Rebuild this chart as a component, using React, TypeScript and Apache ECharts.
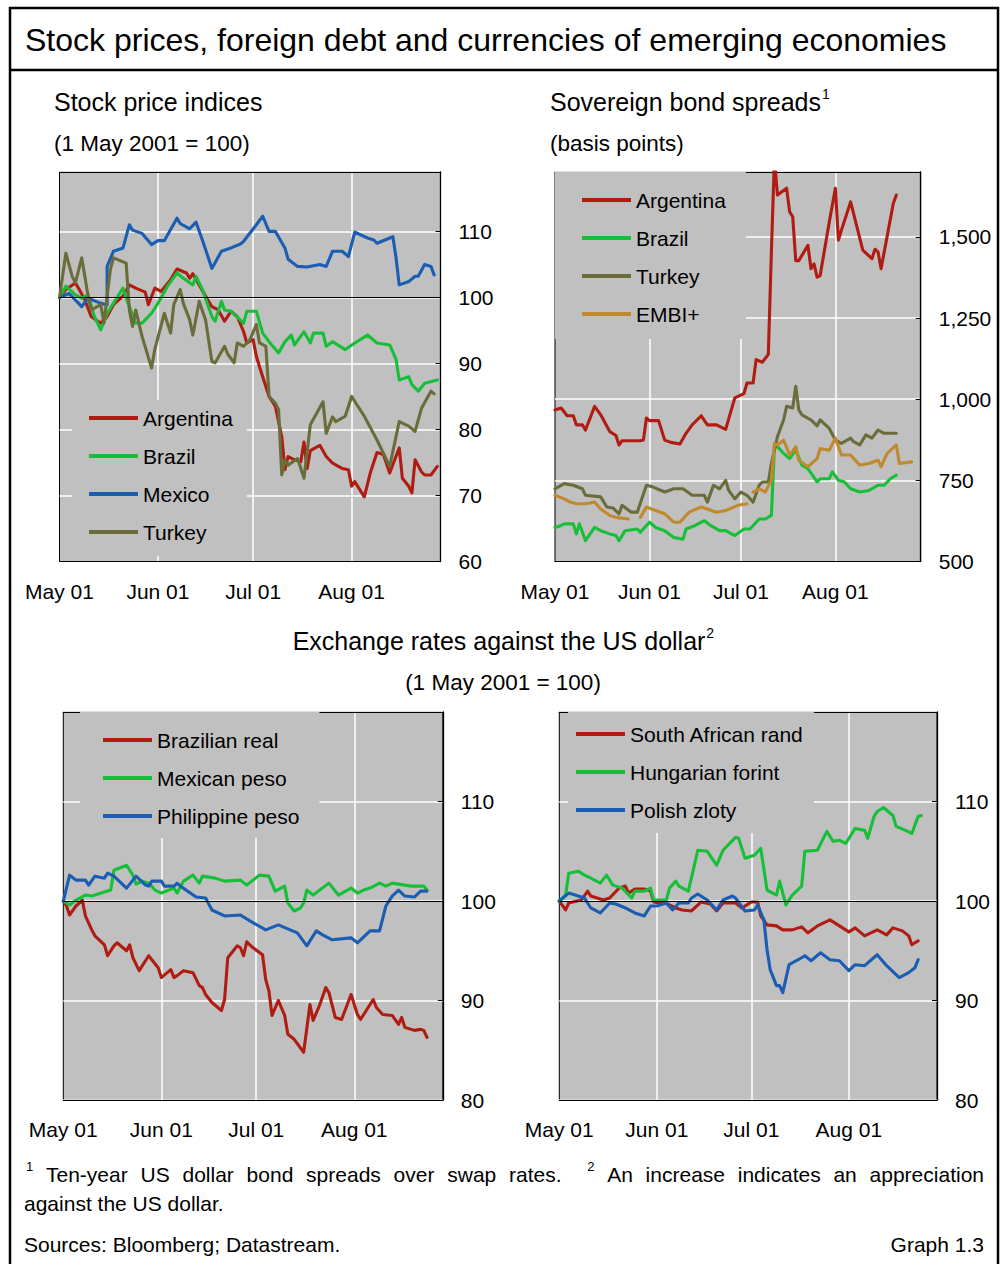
import React, { useEffect, useRef } from 'react';
import * as echarts from 'echarts';

const FONT = '"Liberation Sans", Arial, Helvetica, sans-serif';

// ---------- data: [days since 1 May 2001, value] ----------
// Stock price indices (1 May 2001 = 100)
const stockArgentina = [[0,100],[2,101.2],[5,102.2],[6,101.4],[8,99.6],[10,97.1],[13,96.1],[15,97.1],[17,98.9],[20,100.2],[22,101.9],[24,101.4],[27,100.8],[28,98.9],[30,101.4],[32,100.9],[35,102.7],[37,104.3],[40,103.7],[41,102.9],[42,103.6],[44,101.9],[46,100.2],[48,98.6],[50,98.1],[52,96.4],[54,97.9],[56,97.1],[58,94.8],[59,93.1],[61,93.6],[62,91.1],[63,89.5],[64,88],[66,85],[68,83.5],[70,78.9],[71,73.9],[72,75.9],[74,75.4],[76,75.1],[77,78.1],[78,74.1],[79,76.8],[82,77.6],[84,75.9],[86,74.9],[89,74.1],[91,73.9],[92,71.4],[93,72.1],[96,69.8],[98,73.6],[100,76.5],[102,76.2],[104,73.4],[107,77.2],[108,72.6],[110,71.4],[111,70.4],[112,75.4],[114,73.6],[115,73.1],[117,73.1],[119,74.4]];
const stockBrazil = [[0,100],[2,101.7],[5,100.4],[7,99.9],[9,100.4],[11,97.1],[13,95.1],[15,97.6],[18,99.9],[20,101.4],[21,99.9],[24,96.1],[26,96.1],[29,97.6],[31,99.1],[34,101.7],[37,103.7],[39,102.9],[42,101.9],[43,103.2],[45,101.2],[48,97.1],[49,96.4],[51,99.4],[52,98.1],[54,97.9],[58,96.1],[59,97.9],[62,97.9],[64,94.6],[66,93.3],[69,91.6],[71,93.3],[73,94.3],[74,92.8],[77,94.8],[79,93.1],[80,94.6],[83,94.6],[84,92.6],[86,93.3],[90,92.1],[93,93.1],[97,94.3],[100,93.1],[104,92.8],[106,90.6],[107,87.5],[110,88],[111,86.8],[113,85.8],[115,87],[119,87.5]];
const stockMexico = [[0,100],[3,100.6],[7,98.6],[9,99.9],[13,99.1],[15,98.9],[15,104.7],[17,107],[20,107.5],[22,111],[23,110.2],[26,109.7],[29,108],[31,108.6],[33,108.6],[37,112],[38,111.2],[41,110.4],[43,111.4],[45,108.7],[48,104.4],[51,107],[54,107.5],[57,108.1],[58,108.5],[62,111],[64,112.3],[66,110],[68,110],[71,107.5],[72,105.8],[75,104.7],[78,104.6],[82,105],[84,104.7],[86,107],[89,107],[91,106.2],[93,109.9],[97,109],[99,108.7],[100,108.2],[105,109.2],[106,106],[107,101.9],[110,102.4],[112,103.2],[113,103.2],[115,105],[117,104.7],[118,103.4]];
const stockTurkey = [[0,100],[2,106.7],[4,103.2],[5,102.2],[7,106],[9,100.2],[10,98.1],[13,98.9],[14,96.1],[16,104.2],[17,106],[21,105.2],[22,98.1],[23,95.6],[24,98.1],[26,94.1],[29,89.3],[30,92.1],[33,97.6],[35,94.6],[36,98.9],[38,101.2],[39,99.1],[41,96.6],[42,94.3],[44,99.4],[46,96.6],[48,90.3],[49,90.1],[52,92.6],[53,91.4],[55,90.1],[56,93.1],[58,92.6],[60,93.6],[62,95.9],[63,93.1],[65,92.6],[66,85],[68,84],[69,83],[70,73.1],[71,75.4],[72,74.6],[75,75.6],[77,72.6],[79,80.7],[83,84.2],[84,79.4],[86,81.9],[87,81.2],[90,82],[92,85],[96,82],[100,78.4],[102,76.4],[104,74.4],[107,81.2],[110,80.5],[112,79.7],[114,83.2],[117,85.8],[118,85.4]];

// Sovereign bond spreads (basis points)
const spreadArgentina = [[0,967],[2,973],[4,949],[6,949],[7,921],[9,921],[10,905],[13,978],[15,952],[18,900],[20,888],[21,859],[22,872],[28,872],[29,874],[30,942],[31,934],[34,934],[36,874],[38,867],[41,862],[43,895],[45,921],[48,949],[50,921],[53,921],[56,907],[59,1004],[62,1017],[63,1050],[65,1050],[66,1122],[68,1114],[70,1138],[71,1453],[72,1740],[73,1629],[76,1650],[77,1577],[78,1562],[79,1427],[80,1427],[83,1474],[84,1402],[85,1417],[86,1376],[87,1381],[90,1546],[92,1650],[93,1490],[94,1521],[97,1608],[101,1459],[104,1433],[105,1462],[106,1454],[107,1402],[111,1603],[112,1629]];
const spreadBrazil = [[0,605],[2,611],[3,616],[6,616],[7,585],[8,616],[10,564],[13,605],[15,595],[18,585],[20,580],[21,564],[23,595],[27,600],[28,590],[31,621],[33,605],[36,595],[39,574],[42,569],[43,600],[46,611],[49,626],[51,611],[54,595],[56,595],[59,580],[62,600],[64,600],[67,631],[69,631],[71,642],[72,854],[73,854],[75,833],[77,817],[79,843],[81,797],[83,786],[86,745],[87,755],[90,755],[91,776],[93,750],[95,745],[97,724],[100,714],[103,719],[106,735],[108,735],[110,755],[112,766]];
const spreadTurkey = [[0,724],[3,740],[6,735],[9,724],[10,704],[15,699],[17,668],[19,665],[21,647],[22,673],[25,652],[27,652],[30,735],[32,730],[36,714],[39,724],[42,724],[45,704],[49,704],[50,683],[52,735],[54,724],[56,750],[57,719],[59,693],[61,714],[63,704],[65,683],[67,735],[68,745],[70,745],[71,802],[73,885],[75,936],[76,978],[78,973],[79,1040],[80,967],[81,952],[84,936],[86,918],[87,936],[90,910],[92,874],[94,864],[97,880],[98,869],[100,859],[102,890],[104,880],[106,905],[108,895],[112,895]];
const spreadEmbi = [[0,704],[3,693],[5,683],[7,678],[10,678],[13,683],[15,662],[18,642],[20,636],[24,631],[26,null],[28,636],[30,668],[33,657],[36,647],[39,621],[41,621],[44,652],[48,668],[53,652],[56,657],[60,673],[63,678],[64,null],[65,714],[67,724],[69,714],[71,750],[72,864],[73,859],[75,874],[77,828],[79,854],[80,812],[83,792],[86,817],[87,848],[90,843],[92,880],[94,828],[97,828],[100,797],[103,802],[106,812],[107,792],[109,833],[112,859],[113,802],[117,807]];

// Exchange rates against the US dollar (1 May 2001 = 100)
const fxBrazilianReal = [[0,100],[1,99.5],[2,98.6],[4,99.5],[6,100.1],[7,98.5],[9,97.1],[10,96.5],[13,95.6],[14,94.5],[16,95.5],[17,95.8],[20,95],[21,95.6],[22,94.3],[24,93],[27,94.5],[30,93.3],[31,92.3],[34,93.1],[35,92.3],[36,92.5],[38,93],[41,92.8],[43,91.5],[44,91.3],[45,90.6],[47,89.8],[50,89],[51,90.1],[52,94.3],[55,95.5],[56,95.3],[57,94.5],[58,95.9],[60,95.3],[63,94.6],[64,92.1],[65,91],[66,88.5],[68,90],[70,88.5],[71,86.6],[73,86.1],[76,84.8],[78,89.6],[79,88],[81,89.5],[83,91.3],[84,90.8],[86,88.3],[88,88.1],[91,90.6],[93,88.6],[94,88.1],[96,89.1],[98,90.1],[99,89.3],[101,88.6],[104,88.5],[106,87.6],[107,88.3],[108,87.3],[111,87],[113,87.1],[114,87],[115,86.3]];
const fxMexicanPeso = [[0,100],[2,99.6],[4,100.1],[7,100.6],[9,100.5],[12,100.8],[15,101.1],[16,103.1],[20,103.6],[22,102.6],[23,101.7],[25,102],[27,101.8],[29,101.1],[31,100.8],[35,101.3],[36,100.8],[38,102],[41,102.6],[43,101.8],[44,102.5],[48,102.3],[51,102],[56,102.1],[58,101.6],[62,102.6],[65,102.5],[67,101],[70,101.5],[71,99.8],[73,99],[75,99.3],[76,99.8],[77,101.1],[79,100.6],[84,101.8],[87,100.6],[91,101.3],[93,100.8],[95,101.1],[97,101.3],[100,101.8],[102,101.5],[104,101.8],[110,101.5],[114,101.5],[115,101.1]];
const fxPhilippinePeso = [[0,100],[2,102.6],[4,102.1],[7,102.1],[8,101.6],[10,102.5],[13,102.3],[14,102.8],[16,102.5],[20,101.3],[23,102.5],[26,101.6],[27,101.5],[28,102],[31,102],[32,101.5],[35,101.5],[36,101.8],[37,101.5],[42,100.4],[45,100.3],[47,99.1],[51,98.5],[56,98.6],[59,98],[64,97.1],[68,97.6],[74,96.8],[77,95.5],[80,97],[82,96.6],[85,96.1],[91,96.3],[93,95.8],[97,97],[100,97],[102,99.5],[104,100.5],[106,101.1],[108,100.5],[111,100.4],[113,101],[115,101]];
const fxRand = [[0,100],[2,99.1],[3,99.8],[7,100.1],[9,101],[10,100.5],[14,100.1],[16,100.3],[19,101.3],[21,101.5],[22,100.8],[24,101.2],[27,101.2],[29,101],[30,99.9],[32,99.8],[33,99.9],[37,99.3],[39,99.1],[42,99],[45,99.9],[48,99.7],[50,99],[52,99.8],[56,99.8],[58,99.3],[61,99.9],[63,99.9],[64,98.5],[66,97.6],[69,97.5],[71,97.1],[74,97.1],[77,97.4],[79,96.8],[82,97.5],[84,97.8],[86,98.1],[89,97.5],[92,96.9],[94,97.3],[97,96.5],[101,97.1],[104,96.6],[106,97.3],[109,97],[111,96.5],[112,95.6],[113,95.8],[114,96]];
const fxForint = [[0,100],[2,100.6],[3,102.8],[6,103],[8,102.6],[10,102.3],[13,101.8],[15,102.6],[17,101.6],[20,101.3],[23,100.3],[24,101],[27,101],[29,101.3],[30,100.1],[34,100.1],[35,101.3],[37,102],[38,101.5],[41,101],[44,105.1],[47,105],[50,103.6],[52,105.1],[56,106.4],[57,106.3],[59,104.3],[62,104.6],[64,105.3],[66,101.1],[69,100.6],[70,102],[72,99.6],[74,100.6],[77,101.5],[78,105],[82,105.1],[85,107],[87,106],[89,106.1],[91,105.8],[94,107.3],[97,107.1],[98,106.3],[100,108.5],[101,109],[103,109.4],[106,108.6],[107,107.5],[110,107.1],[112,106.8],[114,108.5],[115,108.6]];
const fxZloty = [[0,100],[3,100.8],[5,100.6],[8,100.3],[10,99.3],[13,98.8],[16,99.8],[18,99.7],[21,99.3],[24,98.8],[27,98.5],[29,99.5],[31,99.5],[34,99.8],[36,99.1],[38,99.8],[41,99.8],[42,100.3],[44,100.7],[47,100.1],[50,99.1],[52,100.1],[55,100.5],[56,100.3],[59,99],[62,99.1],[63,99.6],[65,98.1],[66,95.1],[67,93.1],[69,91.5],[70,91.5],[71,90.8],[73,93.6],[77,94.3],[78,94.5],[80,94],[83,94.8],[86,94.1],[89,94],[92,93],[94,93.6],[97,93.5],[101,94.6],[104,93.5],[108,92.3],[111,92.8],[113,93.3],[114,94.1]];

// axis: calendar days from 1 May 2001 to 29 Aug 2001
const AXIS_DAYS = 121;
const MONTHS = ['Jan','Feb','Mar','Apr','May','Jun','Jul','Aug','Sep','Oct','Nov','Dec'];
const dayCategories = Array.from({ length: AXIS_DAYS }, (_, i) => {
  const d = new Date(2001, 4, 1 + i);
  return `${MONTHS[d.getMonth()]} ${String(d.getDate()).padStart(2, '0')}`;
});
const isMonthStart = (v: string) => v.endsWith(' 01');

// ---------- styles ----------
const C = { red: '#b01c12', green: '#17bf38', blue: '#1b5db2', olive: '#6a6d3a', orange: '#c1892f' };
const PLOT_BG = '#c0c0c0';

const measureCtx = typeof document !== 'undefined' ? document.createElement('canvas').getContext('2d') : null;
function textWidth(s: string, size: number) {
  if (!measureCtx) return s.length * size * 0.5;
  measureCtx.font = `${size}px ${FONT}`;
  return measureCtx.measureText(s).width;
}

type PanelDef = {
  rect: { left: number; top: number; width: number; height: number };
  y: { min: number; max: number; interval: number; fmt: (v: number) => string };
  legend: { left: number; top: number; padding: number[] };
  refLine: boolean;
  series: { name: string; color: string; data: any[] }[];
};

const panels: PanelDef[] = [
  {
    rect: { left: 59.5, top: 172, width: 381, height: 389.5 },
    y: { min: 60, max: 119, interval: 10, fmt: (v) => (v % 10 === 0 ? String(v) : '') },
    legend: { left: 72, top: 400, padding: [7, 14, 13, 17] },
    refLine: true,
    series: [
      { name: 'Argentina', color: C.red, data: stockArgentina },
      { name: 'Brazil', color: C.green, data: stockBrazil },
      { name: 'Mexico', color: C.blue, data: stockMexico },
      { name: 'Turkey', color: C.olive, data: stockTurkey },
    ],
  },
  {
    rect: { left: 555, top: 172, width: 365.7, height: 389.5 },
    y: { min: 500, max: 1700, interval: 250, fmt: (v) => (v % 250 === 0 ? v.toLocaleString('en-US') : '') },
    legend: { left: 555, top: 172, padding: [17, 20, 14, 27] },
    refLine: false,
    series: [
      { name: 'Argentina', color: C.red, data: spreadArgentina },
      { name: 'Brazil', color: C.green, data: spreadBrazil },
      { name: 'Turkey', color: C.olive, data: spreadTurkey },
      { name: 'EMBI+', color: C.orange, data: spreadEmbi },
    ],
  },
  {
    rect: { left: 63.3, top: 712, width: 379.5, height: 388 },
    y: { min: 80, max: 119, interval: 10, fmt: (v) => (v % 10 === 0 ? String(v) : '') },
    legend: { left: 80, top: 712, padding: [17, 20, 11, 23] },
    refLine: true,
    series: [
      { name: 'Brazilian real', color: C.red, data: fxBrazilianReal },
      { name: 'Mexican peso', color: C.green, data: fxMexicanPeso },
      { name: 'Philippine peso', color: C.blue, data: fxPhilippinePeso },
    ],
  },
  {
    rect: { left: 559.3, top: 712, width: 377.7, height: 388 },
    y: { min: 80, max: 119, interval: 10, fmt: (v) => (v % 10 === 0 ? String(v) : '') },
    legend: { left: 568, top: 712, padding: [11, 10, 12, 8] },
    refLine: true,
    series: [
      { name: 'South African rand', color: C.red, data: fxRand },
      { name: 'Hungarian forint', color: C.green, data: fxForint },
      { name: 'Polish zloty', color: C.blue, data: fxZloty },
    ],
  },
];

function txt(text: string, x: number, y: number, size: number, align = 'left') {
  return {
    type: 'text', x, y, silent: true, z: 10,
    style: { text, fontSize: size, fontFamily: FONT, fill: '#000', align, verticalAlign: 'middle' },
  };
}

function buildGraphics() {
  const g: any[] = [];
  g.push({ type: 'rect', silent: true, shape: { x: 10, y: 8, width: 988, height: 1300 }, style: { fill: 'none', stroke: '#000', lineWidth: 2.5 } });
  g.push({ type: 'line', silent: true, shape: { x1: 10, y1: 70, x2: 998, y2: 70 }, style: { stroke: '#000', lineWidth: 2.5 } });
  g.push(txt('Stock prices, foreign debt and currencies of emerging economies', 25, 40, 32));
  g.push(txt('Stock price indices', 54, 102, 25));
  g.push(txt('(1 May 2001 = 100)', 54, 143, 22.5));
  const t2 = 'Sovereign bond spreads';
  g.push(txt(t2, 550, 102, 25));
  g.push(txt('1', 550 + textWidth(t2, 25) + 1, 94, 14));
  g.push(txt('(basis points)', 550, 143, 22.5));
  const t3 = 'Exchange rates against the US dollar';
  g.push(txt(t3, 499, 641, 25, 'center'));
  g.push(txt('2', 499 + textWidth(t3, 25) / 2 + 1, 633, 14, 'left'));
  g.push(txt('(1 May 2001 = 100)', 503, 682, 22.5, 'center'));

  // justified first footnote line
  const tokens: { t: string; sup?: boolean; gap: number }[] = [
    { t: '1', sup: true, gap: 0 },
    { t: 'Ten-year', gap: 1 }, { t: 'US', gap: 1 }, { t: 'dollar', gap: 1 }, { t: 'bond', gap: 1 },
    { t: 'spreads', gap: 1 }, { t: 'over', gap: 1 }, { t: 'swap', gap: 1 }, { t: 'rates.', gap: 1 },
    { t: '2', sup: true, gap: 2 },
    { t: 'An', gap: 1 }, { t: 'increase', gap: 1 }, { t: 'indicates', gap: 1 }, { t: 'an', gap: 1 }, { t: 'appreciation', gap: 1 },
  ];
  const startX = 26, endX = 984;
  const widths = tokens.map((k) => textWidth(k.t, k.sup ? 13 : 21));
  const units = tokens.reduce((s, k) => s + k.gap, 0);
  const gap = (endX - startX - widths.reduce((a, b) => a + b, 0)) / units;
  let x = startX;
  tokens.forEach((k, i) => {
    x += k.gap * gap;
    g.push(txt(k.t, x, k.sup ? 1166 : 1174, k.sup ? 13 : 21));
    x += widths[i];
  });
  g.push(txt('against the US dollar.', 24, 1203, 21));
  g.push(txt('Sources: Bloomberg; Datastream.', 24, 1244, 21));
  g.push(txt('Graph 1.3', 984, 1244, 21, 'right'));
  return g;
}

function buildOption() {
  const grid: any[] = [];
  const xAxis: any[] = [];
  const yAxis: any[] = [];
  const legend: any[] = [];
  const series: any[] = [];

  panels.forEach((p, i) => {
    grid.push({ ...p.rect, show: true, backgroundColor: PLOT_BG, borderColor: '#000', borderWidth: 1, containLabel: false });
    xAxis.push({
      type: 'category', gridIndex: i, data: dayCategories, boundaryGap: false, position: 'bottom',
      axisLine: { show: true, onZero: false, lineStyle: { color: '#000', width: 1 } },
      axisTick: { show: false },
      axisLabel: {
        interval: (_: number, v: string) => isMonthStart(v), margin: 19, fontSize: 21, color: '#000', fontFamily: FONT,
        hideOverlap: false,
      },
      splitLine: { show: true, interval: (idx: number, v: string) => idx > 0 && isMonthStart(v), lineStyle: { color: '#fff', width: 1.5 } },
    });
    xAxis.push({
      type: 'category', gridIndex: i, data: dayCategories, boundaryGap: false, position: 'top',
      axisLine: { show: true, onZero: false, lineStyle: { color: '#000', width: 1 } },
      axisTick: { show: false }, axisLabel: { show: false }, splitLine: { show: false },
    });
    yAxis.push({
      type: 'value', gridIndex: i, position: 'right', min: p.y.min, max: p.y.max, interval: p.y.interval,
      axisLine: { show: true, onZero: false, lineStyle: { color: '#000', width: 1.3 } },
      axisTick: { show: true, inside: true, length: 5, lineStyle: { color: '#000', width: 1 } },
      axisLabel: { margin: 18, fontSize: 21, color: '#000', fontFamily: FONT, formatter: p.y.fmt, showMaxLabel: true },
      splitLine: { show: true, lineStyle: { color: '#fff', width: 1.5 } },
    });
    legend.push({
      orient: 'vertical', left: p.legend.left, top: p.legend.top, padding: p.legend.padding,
      backgroundColor: PLOT_BG, icon: 'rect', itemWidth: 49, itemHeight: 4, itemGap: 16,
      selectedMode: false, data: p.series.map((s) => s.name),
      textStyle: { fontSize: 21, color: '#000', fontFamily: FONT, lineHeight: 22 },
    });
    p.series.forEach((s, j) => {
      const item: any = {
        type: 'line', name: s.name, xAxisIndex: i * 2, yAxisIndex: i, data: s.data,
        symbol: 'none', showSymbol: false, connectNulls: false, clip: true, color: s.color,
        lineStyle: { color: s.color, width: 3.1, join: 'round', cap: 'round' },
        itemStyle: { color: s.color }, z: 3,
      };
      if (j === 0 && p.refLine) {
        item.markLine = {
          silent: true, symbol: 'none', label: { show: false }, animation: false,
          lineStyle: { color: '#000', width: 1, type: 'solid' },
          data: [{ yAxis: 100 }],
        };
      }
      series.push(item);
    });
  });

  return {
    animation: false,
    backgroundColor: '#fff',
    textStyle: { fontFamily: FONT },
    grid, xAxis, yAxis, legend, series,
    graphic: { elements: buildGraphics() },
  };
}

export default function App() {
  const ref = useRef<HTMLDivElement>(null);
  useEffect(() => {
    const chart = echarts.init(ref.current!, undefined, { renderer: 'svg', width: 1002, height: 1264 });
    chart.setOption(buildOption() as any);
    return () => chart.dispose();
  }, []);
  return (
    <div
      ref={ref}
      style={{ position: 'absolute', left: 0, top: 0, width: 1002, height: 1264, background: '#fff' }}
    />
  );
}
